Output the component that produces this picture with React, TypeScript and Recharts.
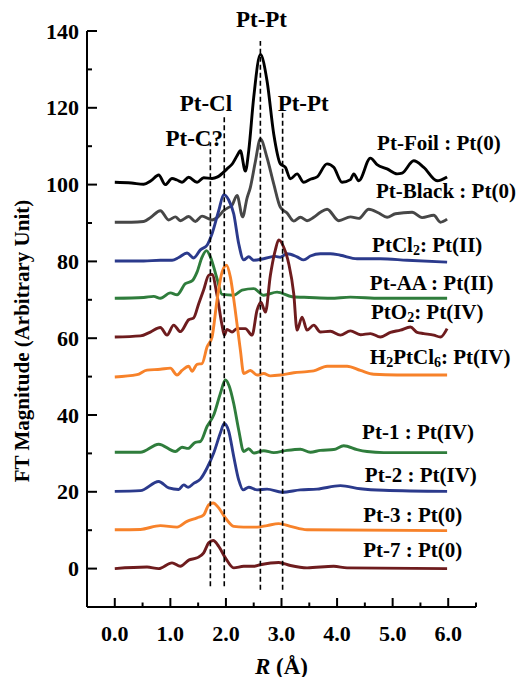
import React from 'react';
import { LineChart, Line, XAxis, YAxis, ReferenceLine, ReferenceDot } from 'recharts';

type P = [number, number];

const ptFoil: P[] = [[0,100.6],[0.3,100.4],[0.52,100.1],[0.65,101],[0.79,102.5],[0.91,100],[1.03,101.6],[1.12,101.2],[1.21,100.6],[1.33,101.9],[1.48,100.6],[1.6,101.8],[1.75,101.6],[1.85,102],[2.02,104.1],[2.12,105.5],[2.2,107.5],[2.26,108.8],[2.35,103.5],[2.41,108.8],[2.5,122.7],[2.62,133.9],[2.74,127],[2.86,113.2],[2.98,105.4],[3.07,104.5],[3.16,101.5],[3.28,102.8],[3.4,100.6],[3.52,101.4],[3.64,102],[3.82,105.4],[3.94,104.5],[4.09,100.6],[4.24,101.3],[4.3,102.8],[4.39,101],[4.6,106.9],[4.72,105.2],[4.9,104.1],[5.08,102.8],[5.17,103],[5.38,106.2],[5.56,104.5],[5.8,101],[5.98,102]];
const ptBlack: P[] = [[0,90.2],[0.3,90.2],[0.52,90.4],[0.65,91.5],[0.82,93.2],[0.97,90.8],[1.09,91.6],[1.18,90.6],[1.33,91.7],[1.45,90.4],[1.57,91.8],[1.75,90.8],[1.85,91.5],[1.96,93.2],[2.04,94],[2.11,94.6],[2.2,97.2],[2.3,91.6],[2.38,96.5],[2.44,99.3],[2.53,106],[2.62,111.9],[2.74,107],[2.86,100.2],[2.98,94.1],[3.1,92.6],[3.22,90.5],[3.34,91.5],[3.46,90.6],[3.58,91.5],[3.7,92.8],[3.82,93.6],[4.03,90.6],[4.24,91.6],[4.39,91.2],[4.57,93.6],[4.75,92.6],[4.9,91.5],[5.05,92.4],[5.35,92.8],[5.53,91.4],[5.74,92],[5.86,90.2],[5.98,91]];
const ptCl2: P[] = [[0,80.1],[0.52,80.1],[0.82,80.3],[1.03,80.3],[1.15,81],[1.3,82.2],[1.42,80.9],[1.54,83],[1.66,84.2],[1.75,87.2],[1.87,93.2],[1.96,97.4],[2.05,96],[2.14,92.4],[2.23,84.6],[2.32,80.4],[2.41,81.2],[2.5,80.3],[2.68,80.7],[2.89,81.3],[2.98,81.1],[3.1,82],[3.28,81.2],[3.4,80.4],[3.52,81.4],[3.7,82],[3.88,82],[4.06,81.6],[4.36,80.7],[4.78,80.7],[5.26,80.3],[5.98,79.8]];
const ptAA: P[] = [[0,70.4],[0.52,70.6],[0.7,70.9],[0.82,70.4],[1.0,71.8],[1.12,71.3],[1.27,74.2],[1.39,74.9],[1.48,77.2],[1.57,81.1],[1.65,82.8],[1.72,81.2],[1.84,75.5],[1.93,71.4],[2.14,71.2],[2.29,72.5],[2.5,72.9],[2.68,71.2],[2.92,72],[3.19,70.8],[3.5,70.6],[3.88,70.4],[4.24,70.7],[4.78,70.4],[5.98,70.4]];
const ptO2: P[] = [[0,60.3],[0.46,60.6],[0.64,61.6],[0.82,62.8],[0.94,60.8],[1.06,63.4],[1.18,61.7],[1.33,64.8],[1.42,65.3],[1.51,69],[1.6,72.6],[1.69,76.4],[1.75,76.6],[1.84,71.2],[1.93,63.4],[1.97,60.8],[2.02,62.3],[2.11,61.6],[2.2,62.5],[2.35,62.5],[2.47,60.8],[2.56,67.3],[2.63,69.4],[2.71,66.8],[2.8,76.4],[2.89,83],[2.95,85.6],[3.04,83.7],[3.13,79.4],[3.22,71.6],[3.28,62.1],[3.37,65.5],[3.46,62.1],[3.58,63.4],[3.7,61.6],[3.88,61.8],[4.06,60.8],[4.24,61.9],[4.42,60.9],[4.6,61.2],[4.78,60.3],[4.96,61.5],[5.14,62.1],[5.32,62.9],[5.44,61.5],[5.56,61.2],[5.74,60.8],[5.86,60.3],[5.98,62.5]];
const h2PtCl6: P[] = [[0,49.9],[0.4,50.5],[0.58,51.7],[0.82,51.9],[1.0,52.2],[1.12,50.4],[1.21,51.6],[1.33,52.7],[1.39,51.4],[1.48,53.2],[1.57,53.4],[1.66,57.7],[1.75,60.3],[1.84,69.9],[1.93,77.2],[2.01,79],[2.08,75.9],[2.16,68.1],[2.26,56.9],[2.32,50.8],[2.44,51.6],[2.56,50.4],[2.68,50.8],[2.8,50.2],[2.98,50.4],[3.22,51],[3.46,51.3],[3.58,51.5],[3.82,52.7],[4.18,52.7],[4.42,51.6],[4.66,50.6],[5.08,50.4],[5.98,50.4]];
const pt1: P[] = [[0,30.3],[0.46,30.3],[0.79,32.4],[1.09,30.5],[1.21,31.6],[1.32,31.3],[1.45,32.9],[1.54,33.1],[1.66,37],[1.78,40],[1.9,45.6],[1.99,49.1],[2.06,47.5],[2.14,43],[2.23,36.1],[2.32,30.5],[2.41,31.2],[2.5,30.1],[2.68,30.7],[2.86,30.2],[3.1,30.8],[3.34,31.1],[3.52,30.3],[3.7,30.8],[3.94,31],[4.12,32],[4.36,31],[4.54,30.5],[4.84,30.2],[5.98,30.2]];
const pt2: P[] = [[0,20.1],[0.46,20.3],[0.79,22.7],[0.97,21],[1.15,20.6],[1.24,21.8],[1.32,21.2],[1.42,22.2],[1.54,23.3],[1.66,26.2],[1.78,30.1],[1.9,35.3],[1.97,37.8],[2.05,35.8],[2.14,29.2],[2.23,23.1],[2.31,20.5],[2.41,21.2],[2.56,20.5],[2.74,20.7],[3.01,19.9],[3.34,20.5],[3.64,20.7],[4.06,21.6],[4.42,20.8],[4.84,20.4],[5.98,20.1]];
const pt3: P[] = [[0,10.1],[0.46,10.2],[0.82,11.2],[1.12,10.8],[1.3,12.3],[1.48,13.2],[1.6,14],[1.69,16.6],[1.77,17.1],[1.87,15.8],[1.99,13.2],[2.14,11],[2.32,10.8],[2.56,10.8],[2.74,11.2],[2.95,11.7],[3.16,11],[3.46,10.1],[5.98,9.9]];
const pt7: P[] = [[0,0],[0.58,0.4],[0.79,0],[1.03,1.5],[1.18,0.6],[1.33,2.2],[1.48,2.8],[1.6,4.1],[1.69,6.7],[1.77,7.3],[1.87,5.8],[1.99,2.8],[2.14,0.2],[2.32,0.6],[2.5,0.6],[2.62,1],[2.95,1.6],[3.16,0.8],[3.46,0.2],[3.94,0.6],[4.18,0.2],[5.98,0]];

const seriesData = [ptFoil, ptBlack, ptCl2, ptAA, ptO2, h2PtCl6, pt1, pt2, pt3, pt7];
const seriesColors = ['#000000', '#474747', '#2b3a8c', '#2f7d3c', '#6e1c1e', '#f7822a', '#2f7d3c', '#2b3a8c', '#f7822a', '#6e1c1e'];

// label parts: [text, isSubscript]
type Part = [string, boolean];
const seriesLabels: Part[][] = [
  [['Pt-Foil : Pt(0)', false]],
  [['Pt-Black : Pt(0)', false]],
  [['PtCl', false], ['2', true], [': Pt(II)', false]],
  [['Pt-AA : Pt(II)', false]],
  [['PtO', false], ['2', true], [': Pt(IV)', false]],
  [['H', false], ['2', true], ['PtCl', false], ['6', true], [': Pt(IV)', false]],
  [['Pt-1 : Pt(IV)', false]],
  [['Pt-2 : Pt(IV)', false]],
  [['Pt-3 : Pt(0)', false]],
  [['Pt-7 : Pt(0)', false]],
];
const labelR = [4.72, 4.70, 4.63, 4.59, 4.61, 4.59, 4.45, 4.50, 4.47, 4.47];
const labelMag = [110.8, 98.3, 84.2, 74.3, 66.8, 55.1, 35.5, 24.3, 13.9, 4.8];

const bondNames = ['Pt-C?', 'Pt-Cl', 'Pt-Pt', 'Pt-Pt'];
const bondR = [1.72, 1.97, 2.62, 3.02];
const bondTop = [111, 117.7, 137.4, 119.5];
const bondBottom = [-4.6, -4.6, -5.5, -5.5];
const bondLabelR = [1.43, 1.64, 2.64, 3.39];
const bondLabelMag = [112.1, 121.2, 142.9, 121.2];

const xTicks = [0, 0.5, 1, 1.5, 2, 2.5, 3, 3.5, 4, 4.5, 5, 5.5, 6, 6.5];
const xMajor = [0, 1, 2, 3, 4, 5, 6];
const yTicks = [0, 10, 20, 30, 40, 50, 60, 70, 80, 90, 100, 110, 120, 130, 140];

const FONT = '"Liberation Serif", "Times New Roman", serif';

const XTick = (props: any) => {
  const { x, y, payload } = props;
  const major = xMajor.includes(payload.value);
  return (
    <g>
      <line x1={x} x2={x} y1={y} y2={y - (major ? 9 : 4.5)} stroke="#000" strokeWidth={2} />
      {major && (
        <text x={x} y={y + 26} textAnchor="middle" dominantBaseline="central" fontFamily={FONT} fontWeight="bold" fontSize={22} fill="#000">
          {payload.value.toFixed(1)}
        </text>
      )}
    </g>
  );
};

const YTick = (props: any) => {
  const { x, y, payload } = props;
  const major = payload.value % 20 === 0;
  return (
    <g>
      <line x1={x} x2={x + (major ? 10 : 5)} y1={y} y2={y} stroke="#000" strokeWidth={2} />
      {major && (
        <text x={x - 8} y={y} textAnchor="end" dominantBaseline="central" fontFamily={FONT} fontWeight="bold" fontSize={22} fill="#000">
          {payload.value}
        </text>
      )}
    </g>
  );
};

const YTitle = (props: any) => {
  const vb = props.viewBox;
  const cx = vb.x + 15;
  const cy = vb.y + vb.height / 2 + 22;
  return (
    <text x={cx} y={cy} transform={`rotate(-90 ${cx} ${cy})`} textAnchor="middle" dominantBaseline="central" fontFamily={FONT} fontWeight="bold" fontSize={21} fill="#000">
      FT Magnitude (Arbitrary Unit)
    </text>
  );
};

const XTitle = (props: any) => {
  const vb = props.viewBox;
  return (
    <text x={vb.x + vb.width / 2} y={vb.y + 59} textAnchor="middle" dominantBaseline="central" fontFamily={FONT} fontWeight="bold" fontSize={23} fill="#000">
      <tspan fontStyle="italic">R</tspan> (Å)
    </text>
  );
};

const SeriesLabel = (props: any) => {
  const { viewBox, parts } = props;
  return (
    <text x={viewBox.x} y={viewBox.y} textAnchor="start" dominantBaseline="central" fontFamily={FONT} fontWeight="bold" fontSize={21} fill="#000">
      {parts.map((p: Part, i: number) => {
        const prevSub = i > 0 && parts[i - 1][1];
        const dy = p[1] ? 5 : prevSub ? -5 : 0;
        return (
          <tspan key={i} dy={dy} fontSize={p[1] ? 14 : 21}>{p[0]}</tspan>
        );
      })}
    </text>
  );
};

const BondLabel = (props: any) => {
  const { viewBox, text } = props;
  return (
    <text x={viewBox.x} y={viewBox.y} textAnchor="middle" dominantBaseline="central" fontFamily={FONT} fontWeight="bold" fontSize={23} fill="#000">
      {text}
    </text>
  );
};

export default function App() {
  return (
    <div style={{ position: 'absolute', left: 0, top: 0, width: 517, height: 677, background: '#fff' }}>
      <LineChart width={517} height={677} margin={{ top: 31, right: 41, bottom: 0, left: 7 }}>
        <XAxis
          type="number"
          dataKey="r"
          domain={[-0.5, 6.5]}
          ticks={xTicks}
          interval={0}
          tickSize={0}
          tickMargin={0}
          tickLine={false}
          tick={<XTick />}
          axisLine={{ stroke: '#000', strokeWidth: 2 }}
          height={70}
          allowDataOverflow
          label={<XTitle />}
        />
        <YAxis
          type="number"
          domain={[-10, 140]}
          ticks={yTicks}
          interval={0}
          tickSize={0}
          tickMargin={0}
          tickLine={false}
          tick={<YTick />}
          axisLine={{ stroke: '#000', strokeWidth: 2 }}
          width={80}
          allowDataOverflow
          label={<YTitle />}
        />
        {seriesData.map((d, i) => (
          <Line
            key={i}
            data={d.map(([r, v]) => ({ r, v }))}
            dataKey="v"
            type="monotone"
            stroke={seriesColors[i]}
            strokeWidth={2.9}
            dot={false}
            activeDot={false}
            isAnimationActive={false}
          />
        ))}
        {bondR.map((r, i) => (
          <ReferenceLine
            key={'b' + i}
            segment={[{ x: r, y: bondBottom[i] }, { x: r, y: bondTop[i] }]}
            stroke="#000"
            strokeWidth={1.6}
            strokeDasharray="5 3"
            ifOverflow="visible"
          />
        ))}
        {bondNames.map((n, i) => (
          <ReferenceDot key={'bl' + i} x={bondLabelR[i]} y={bondLabelMag[i]} r={0} fill="none" stroke="none" ifOverflow="visible" label={<BondLabel text={n} />} />
        ))}
        {seriesLabels.map((parts, i) => (
          <ReferenceDot key={'sl' + i} x={labelR[i]} y={labelMag[i]} r={0} fill="none" stroke="none" ifOverflow="visible" label={<SeriesLabel parts={parts} />} />
        ))}
      </LineChart>
    </div>
  );
}
